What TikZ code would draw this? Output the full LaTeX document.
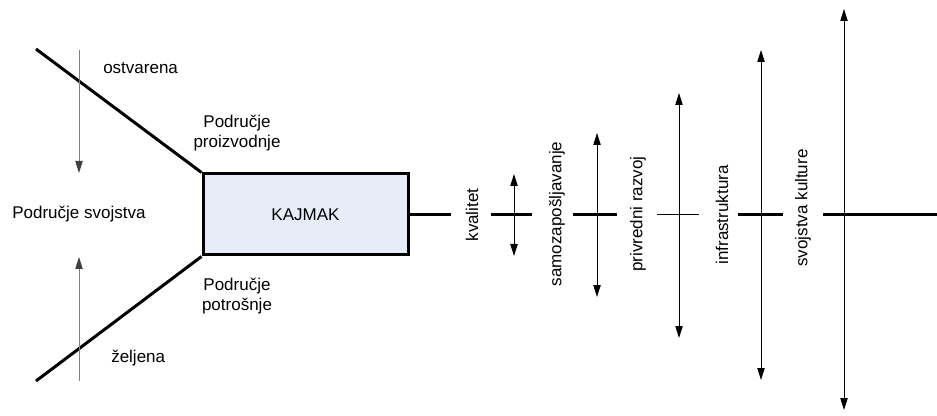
\documentclass[tikz,border=0pt]{standalone}
\usepackage{fontspec}
\setmainfont{Liberation Sans}
\usetikzlibrary{arrows.meta}
\definecolor{boxfill}{HTML}{E6EDF8}
\definecolor{axisgray}{HTML}{808080}
\begin{document}
\begin{tikzpicture}[x=0.75pt,y=-0.75pt,
  lbl/.style={inner sep=0pt,font=\fontsize{12.75pt}{15pt}\selectfont},
  vlbl/.style={lbl,rotate=90},
  heavy/.style={line width=2.25pt,line join=miter},
  light/.style={line width=0.75pt},
  tip/.tip={Triangle[length=9pt,width=5.5pt]},
  twoway/.style={light,{tip}-{tip}},
  oneway/.style={light,draw=axisgray,-{Triangle[length=9pt,width=5.5pt,color=black!75]}}
]
\useasboundingbox (0,0) rectangle (937,416);

% central product box
\node[draw,heavy,fill=boxfill,minimum width=153.75pt,minimum height=60.75pt,
      inner sep=0pt,font=\fontsize{12.75pt}{15pt}\selectfont] (box) at (305.5,214.5) {KAJMAK};

% funnel arms
\coordinate (armtop) at (36,49);
\coordinate (armbot) at (36,381);
\draw[heavy] (armtop) -- (box.north west);
\draw[heavy] (armbot) -- (box.south west);

% left-side direction arrows
\coordinate (downstart) at (79,50);
\coordinate (downend) at (79,173);
\coordinate (upstart) at (79,381);
\coordinate (upend) at (79,257);
\draw[oneway] (downstart) -- (downend);
\draw[oneway] (upstart) -- (upend);

% left-side labels
\node[lbl,anchor=west] (ostv) at (103,68) {ostvarena};
\node[lbl,align=center] (proiz) at (237,133) {Područje\\proizvodnje};
\node[lbl,anchor=west] (svoj) at (12,214) {Područje svojstva};
\node[lbl,align=center] (potr) at (237,296) {Područje\\potrošnje};
\node[lbl,anchor=west] (zelj) at (111,358) {željena};

% rotated factor labels
\node[vlbl] (kval) at (472,215) {kvalitet};
\node[vlbl] (samo) at (557,214) {samozapošljavanje};
\node[vlbl] (priv) at (638,214) {privredni razvoj};
\node[vlbl] (infr) at (722,215) {infrastruktura};
\node[vlbl] (kult) at (803,208) {svojstva kulture};

% main horizontal axis, broken by the labels
\coordinate (s0b) at (451,215);
\coordinate (s1a) at (491,215); \coordinate (s1b) at (532,215);
\coordinate (s2a) at (573,215); \coordinate (s2b) at (617,215);
\coordinate (s3a) at (657,215); \coordinate (s3b) at (699,215);
\coordinate (s4a) at (738,215); \coordinate (s4b) at (783,215);
\coordinate (s5a) at (823,215); \coordinate (s5b) at (937,215);
\draw[heavy] (box.east |- s0b) -- (s0b);
\draw[heavy] (s1a) -- (s1b);
\draw[heavy] (s2a) -- (s2b);
\draw[light] (s3a) -- (s3b);
\draw[heavy] (s4a) -- (s4b);
\draw[heavy] (s5a) -- (s5b);

% vertical ranges, growing to the right
\coordinate (r1t) at (514,174); \coordinate (r1b) at (514,256);
\coordinate (r2t) at (597,133); \coordinate (r2b) at (597,297);
\coordinate (r3t) at (679,93);  \coordinate (r3b) at (679,338);
\coordinate (r4t) at (761,50);  \coordinate (r4b) at (761,380);
\coordinate (r5t) at (844,9);   \coordinate (r5b) at (844,410);
\draw[twoway] (r1t) -- (r1b);
\draw[twoway] (r2t) -- (r2b);
\draw[twoway] (r3t) -- (r3b);
\draw[twoway] (r4t) -- (r4b);
\draw[twoway] (r5t) -- (r5b);
\end{tikzpicture}
\end{document}
